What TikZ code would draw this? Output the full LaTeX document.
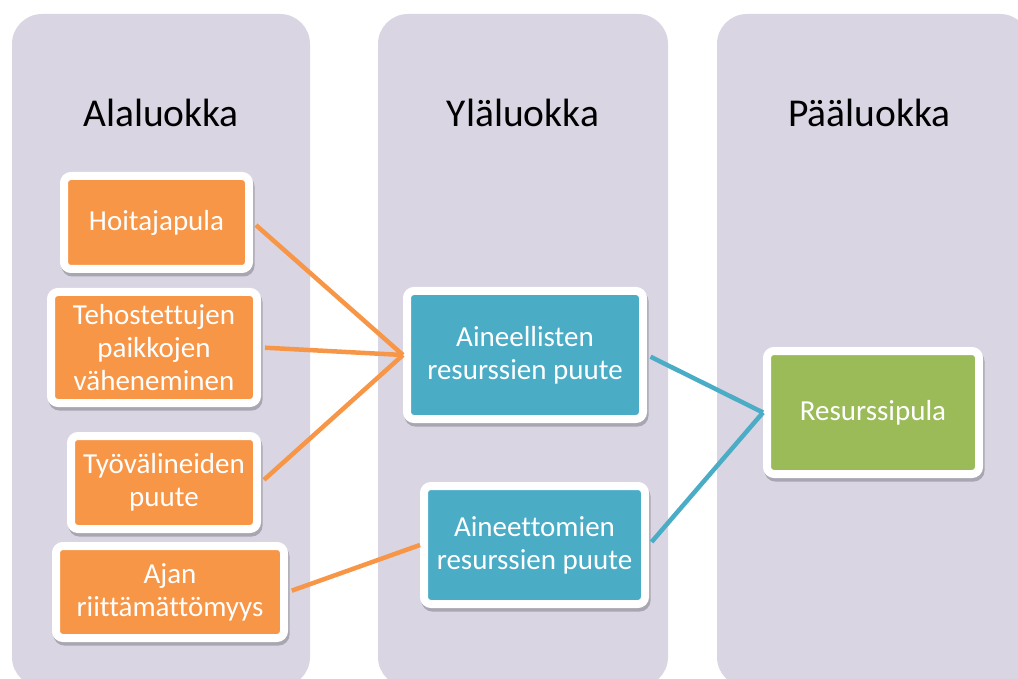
\documentclass[tikz,border=0pt]{standalone}
\usepackage{fontspec}
\setmainfont{Carlito}[Ligatures=CommonOff]
\usetikzlibrary{shadows}
\definecolor{colbg}{RGB}{217,213,227}
\definecolor{orangefill}{RGB}{247,150,70}
\definecolor{bluefill}{RGB}{75,172,198}
\definecolor{greenfill}{RGB}{155,187,89}

\begin{document}
\begin{tikzpicture}[x=1pt,y=-1pt,
  column/.style={fill=colbg, rounded corners=30pt},
  coltitle/.style={font=\fontsize{39.5}{47}\selectfont, text=black, anchor=base, inner sep=0pt},
  box/.style={rectangle, rounded corners=7pt, draw=white, line width=8pt,
    text=white, align=center, inner sep=0pt,
    font=\fontsize{29}{33}\selectfont,
    drop shadow={shadow xshift=1.5pt, shadow yshift=-3.5pt, draw=black,
      fill=black, line width=8pt, opacity=0.22}},
  orangebox/.style={box, fill=orangefill},
  bluebox/.style={box, fill=bluefill},
  greenbox/.style={box, fill=greenfill},
  link/.style={line width=4.5pt, shorten <=4pt}
]
\useasboundingbox (0,0) rectangle (1018,679);
\clip (0,0) rectangle (1018,679);

% the three category columns
\fill[column] (12,14) rectangle (310,687);
\fill[column] (378,14) rectangle (668,687);
\fill[column] (717,14) rectangle (1030,687);

\node[coltitle] (t1) at (161,127) {Alaluokka};
\node[coltitle] (t2) at (523,127) {Yläluokka};
\node[coltitle] (t3) at (869.5,127) {Pääluokka};

% sub-category boxes
\node[orangebox, minimum width=185pt, minimum height=93pt] (hoit) at (156.5,222.5) {Hoitajapula};
\node[orangebox, minimum width=206pt, minimum height=111pt] (teho) at (154,347.5) {Tehostettujen\\paikkojen\\väheneminen};
\node[orangebox, minimum width=186pt, minimum height=93pt] (tyov) at (164,482.5) {Työvälineiden\\puute};
\node[orangebox, minimum width=228pt, minimum height=92pt] (ajan) at (170,592) {Ajan\\riittämättömyys};

% upper-category boxes
\node[bluebox, minimum width=236pt, minimum height=128pt] (aine) at (525,355) {Aineellisten\\resurssien puute};
\node[bluebox, minimum width=221pt, minimum height=118pt] (aett) at (534.5,545) {Aineettomien\\resurssien puute};

% main category box
\node[greenbox, minimum width=212pt, minimum height=123pt] (resp) at (873,412.5) {Resurssipula};

% connectors
\draw[link, orangefill] (hoit.east) -- (aine.west);
\draw[link, orangefill] (teho.east) -- (aine.west);
\draw[link, orangefill] (tyov.east) -- (aine.west);
\draw[link, orangefill] (ajan.east) -- (aett.west);
\draw[link, bluefill] (aine.east) -- (resp.west);
\draw[link, bluefill] (aett.east) -- (resp.west);
\end{tikzpicture}
\end{document}
